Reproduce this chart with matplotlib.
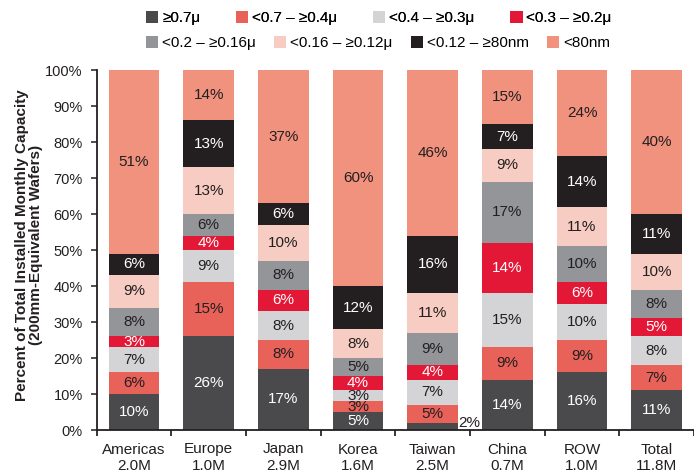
import matplotlib
matplotlib.use("Agg")
import matplotlib.pyplot as plt
import numpy as np
from matplotlib.patches import Patch

plt.rcParams['font.family'] = ['Liberation Sans', 'DejaVu Sans']

regions = ["Americas", "Europe", "Japan", "Korea", "Taiwan", "China", "ROW", "Total"]
capacity = ["2.0M", "1.0M", "2.9M", "1.6M", "2.5M", "0.7M", "1.0M", "11.8M"]

series_names = ["≥0.7μ", "<0.7 – ≥0.4μ", "<0.4 – ≥0.3μ", "<0.3 – ≥0.2μ",
                "<0.2 – ≥0.16μ", "<0.16 – ≥0.12μ", "<0.12 – ≥80nm", "<80nm"]

ge_07 = [10, 26, 17, 5, 2, 14, 16, 11]
lt07_ge04 = [6, 15, 8, 3, 5, 9, 9, 7]
lt04_ge03 = [7, 9, 8, 3, 7, 15, 10, 8]
lt03_ge02 = [3, 4, 6, 4, 4, 14, 6, 5]
lt02_ge016 = [8, 6, 8, 5, 9, 17, 10, 8]
lt016_ge012 = [9, 13, 10, 8, 11, 9, 11, 10]
lt012_ge80 = [6, 13, 6, 12, 16, 7, 14, 11]
lt80 = [51, 14, 37, 60, 46, 15, 24, 40]

series_values = [ge_07, lt07_ge04, lt04_ge03, lt03_ge02, lt02_ge016,
                 lt016_ge012, lt012_ge80, lt80]

colors = ["#4a4a4c", "#e8625a", "#d4d4d6", "#e31837",
          "#939598", "#f7cdc3", "#231f20", "#f0927e"]
text_colors = ["white", "#231f20", "#231f20", "white",
               "#231f20", "#231f20", "white", "#231f20"]

W, H = 694, 475
fig = plt.figure(figsize=(W / 100, H / 100), dpi=100)
ax_left = 96.7 / W
ax_bottom = 45 / H
ax_w = 1 - ax_left
ax_h = 360 / H
ax = fig.add_axes([ax_left, ax_bottom, ax_w, ax_h])

x = np.arange(len(regions))
width = 0.68
bottom = np.zeros(len(regions))
for vals, col, tcol in zip(series_values, colors, text_colors):
    vals = np.array(vals, dtype=float)
    ax.bar(x, vals, width, bottom=bottom, color=col, edgecolor='none')
    for xi, b, v in zip(x, bottom, vals):
        if v <= 2:
            ax.text(xi + width / 2, b + v, f"{int(v)}%", ha='left', va='center',
                    fontsize=11, color="#231f20")
        else:
            ax.text(xi, b + v / 2, f"{int(v)}%", ha='center', va='center',
                    fontsize=11, color=tcol)
    bottom += vals

px_per_unit = 75.0
ax.set_xlim(-0.5, -0.5 + (W - 96.7) / px_per_unit)
ax.set_ylim(0, 100)

ax.set_yticks(np.arange(0, 101, 10))
ax.set_yticklabels([f"{v}%" for v in range(0, 101, 10)])
ax.tick_params(axis='y', direction='out', length=4, width=1.1, pad=6,
               labelsize=10.5, colors='#231f20')

ax.set_xticks(x)
ax.set_xticklabels([f"{r}\n{c}" for r, c in zip(regions, capacity)], linespacing=1.2)
ax.tick_params(axis='x', which='major', length=0, pad=9, labelsize=11, colors='#231f20')
ax.set_xticks(np.arange(-0.5, len(regions), 1.0), minor=True)
ax.tick_params(axis='x', which='minor', direction='out', length=4, width=1.1)

for s in ['top', 'right']:
    ax.spines[s].set_visible(False)
for s in ['left', 'bottom']:
    ax.spines[s].set_linewidth(1.3)
    ax.spines[s].set_color('#231f20')

fig.text(29 / W, 0.5 * (ax_bottom + ax_bottom + ax_h) + 0.01,
         "Percent of Total Installed Monthly Capacity\n(200mm-Equivalent Wafers)",
         rotation=90, ha='center', va='center', fontsize=11, fontweight='bold',
         linespacing=0.95, color='#231f20')

handles = [Patch(facecolor=c, edgecolor='none') for c in colors]
leg1 = fig.legend(handles[:4], series_names[:4], loc='center left',
                  bbox_to_anchor=(146 / W, 1 - 18 / H), ncol=4, frameon=False,
                  fontsize=11, handlelength=0.8, handleheight=0.8,
                  handletextpad=0.25, columnspacing=2.35, borderpad=0, borderaxespad=0)
fig.add_artist(leg1)
leg2 = fig.legend(handles[4:], series_names[4:], loc='center left',
                  bbox_to_anchor=(146 / W, 1 - 43 / H), ncol=4, frameon=False,
                  fontsize=11, handlelength=0.8, handleheight=0.8,
                  handletextpad=0.25, columnspacing=1.2, borderpad=0, borderaxespad=0)

fig.savefig("out.png", dpi=100)
